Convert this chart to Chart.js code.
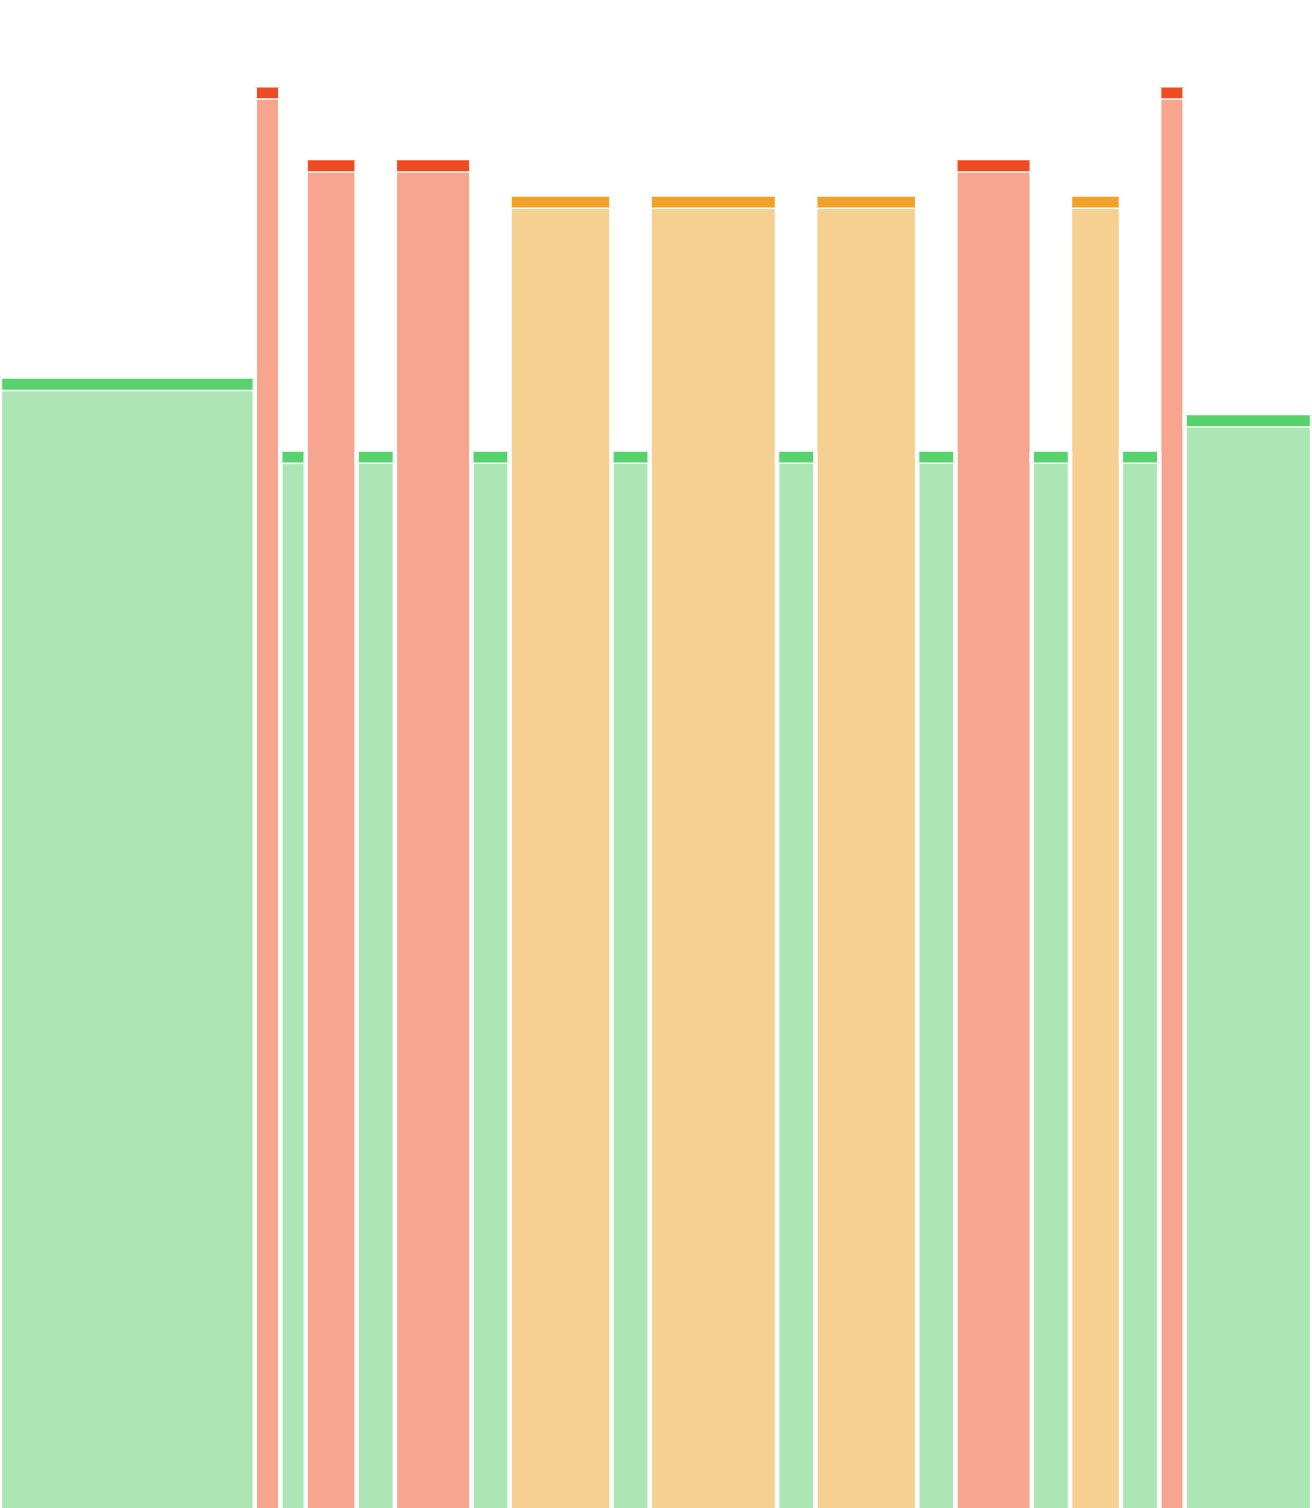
<!DOCTYPE html>
<html>
<head>
<meta charset="utf-8">
<script src="https://cdn.jsdelivr.net/npm/chart.js@4/dist/chart.umd.min.js"></script>
<style>
  html, body { margin: 0; padding: 0; background: #fff; }
  #wrap { width: 1312px; height: 1508px; }
</style>
</head>
<body>
<div id="wrap"><canvas id="durationChart"></canvas></div>
<script>
// width of each block (time units) and its level, left to right
const widths = [10, 1, 1, 2, 1.5, 3, 1.5, 4, 1.5, 5, 1.5, 4, 1.5, 3, 1.5, 2, 1.5, 1, 5];
const values = [31, 39, 29, 37, 29, 37, 29, 36, 29, 36, 29, 36, 29, 37, 29, 36, 29, 39, 30];
const states = ['ok', 'alert', 'ok', 'alert', 'ok', 'alert', 'ok', 'warn', 'ok', 'warn',
                'ok', 'warn', 'ok', 'alert', 'ok', 'warn', 'ok', 'alert', 'ok'];

const Y_MAX = 41.4;
const CAP = 0.3;   // dark band on top of every block

const colors = {
    ok:    { cap: '#57D26D', body: '#ABE6B4' },
    warn:  { cap: '#F0A127', body: '#F6D091' },
    alert: { cap: '#F04A23', body: '#F8A590' }
};

function drawChart() {
    const datasets = [];
    let start = 0;
    widths.forEach((w, i) => {
        const end = start + w;
        const top = values[i];
        const base = top - CAP;
        const c = colors[states[i]];
        // lighter body, white edges and a thin white line on top
        datasets.push({
            data: [{x: start, y: 0}, {x: start, y: base}, {x: end, y: base}, {x: end, y: 0}],
            backgroundColor: c.body,
            borderColor: '#ffffff',
            borderWidth: 4.4,
            fill: 'origin',
            order: 1,
            segment: {
                borderWidth: ctx => ctx.p0DataIndex === 1 ? 3 : 4.4
            }
        });
        // dark cap, no stroke on its top edge
        datasets.push({
            data: [{x: start, y: base}, {x: start, y: top}, {x: end, y: top}, {x: end, y: base}],
            backgroundColor: c.cap,
            borderColor: '#ffffff',
            borderWidth: 4.4,
            fill: {value: base},
            order: 0,
            segment: {
                borderColor: ctx => ctx.p0DataIndex === 1 ? 'rgba(0,0,0,0)' : '#ffffff'
            }
        });
        start = end;
    });

    const ctx = document.getElementById('durationChart').getContext('2d');
    new Chart(ctx, {
        type: 'line',
        data: { datasets: datasets },
        options: {
            responsive: true,
            maintainAspectRatio: false,
            animation: false,
            elements: {
                point: { radius: 0, hoverRadius: 0 },
                line: { tension: 0 }
            },
            layout: { padding: 0 },
            scales: {
                x: { type: 'linear', min: 0, max: start, display: false },
                y: { min: 0, max: Y_MAX, display: false }
            },
            plugins: {
                legend: { display: false },
                tooltip: { enabled: false }
            }
        }
    });
}

drawChart();
</script>
</body>
</html>
